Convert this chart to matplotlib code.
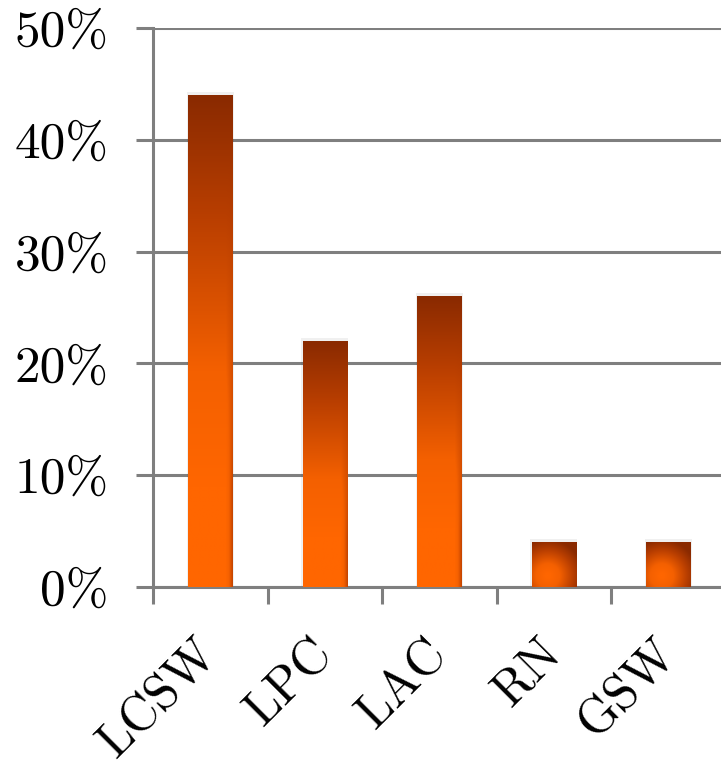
import numpy as np
import matplotlib.pyplot as plt
from matplotlib.colors import LinearSegmentedColormap
from matplotlib.ticker import FixedLocator, NullFormatter

categories = ["LCSW", "LPC", "LAC", "RN", "GSW"]
shares = [0.44, 0.22, 0.26, 0.04, 0.04]
ytick_values = [0.0, 0.1, 0.2, 0.3, 0.4, 0.5]
ytick_labels = ["0%", "10%", "20%", "30%", "40%", "50%"]

GRID = "#7f7f7f"


def main():
    plt.rcParams.update(
        {
            "font.family": "cmr10",
            "axes.unicode_minus": False,
        }
    )
    fig = plt.figure(figsize=(7.21, 7.68), dpi=100)
    ax = fig.add_axes([153 / 721, 1 - 587 / 768, 1 - 153 / 721, (587 - 28) / 768])

    cmap = LinearSegmentedColormap.from_list(
        "bar", [(0.0, "#8a2a00"), (0.3, "#b83e00"), (0.7, "#f46000"), (1.0, "#ff6600")]
    )

    width = 0.385
    x = np.arange(len(categories))
    bars = ax.bar(x, shares, width=width, color="none", edgecolor="none", zorder=3)
    for rect, val in zip(bars, shares):
        x0 = rect.get_x()
        # row 0 is the top of the bar: dark at the top, orange below
        ny, nx = 200, 40
        t = np.linspace(0, 1, ny)[:, None] * np.ones((1, nx))
        s = np.ones((ny, 1)) * np.linspace(0, 1, nx)[None, :]
        if val < 0.1:
            # short bars look radial: bright lower-left, darker edges
            d = np.sqrt((s - 0.35) ** 2 + (t - 0.75) ** 2)
            t = np.clip(1.05 - 1.3 * d, 0, 1)
        else:
            t = np.clip(t / 0.8, 0, 1)
            t = np.clip(t - 0.6 * np.clip(s - 0.85, 0, 1) / 0.15 * t ** 3, 0, 1)
        im = ax.imshow(
            t,
            cmap=cmap,
            vmin=0,
            vmax=1,
            extent=(x0, x0 + width, 0, val),
            origin="upper",
            aspect="auto",
            zorder=3,
            interpolation="bilinear",
        )
        im.set_clip_path(rect)
        # faint shadow
        ax.add_patch(
            plt.Rectangle(
                (x0 - 0.012, 0), width + 0.024, val + 0.003,
                facecolor="#000000", alpha=0.06, edgecolor="none", zorder=2.5,
            )
        )

    ax.set_xlim(-0.5, -0.5 + 568 / 114.5)
    ax.set_ylim(0, 0.5)

    ax.yaxis.set_major_locator(FixedLocator(ytick_values))
    ax.set_yticklabels(ytick_labels)
    ax.grid(axis="y", color=GRID, linewidth=2.2, zorder=1)
    ax.set_axisbelow(True)

    # boundary ticks (major) and centred labels (minor)
    ax.xaxis.set_major_locator(FixedLocator(np.arange(len(categories)) - 0.5))
    ax.xaxis.set_major_formatter(NullFormatter())
    ax.xaxis.set_minor_locator(FixedLocator(x))
    ax.set_xticklabels(categories, minor=True, rotation=45, ha="right",
                       va="center", rotation_mode="anchor")

    ax.tick_params(axis="x", which="major", length=12, width=2.2, color=GRID)
    ax.tick_params(axis="x", which="minor", length=0, pad=43, labelsize=36)
    ax.tick_params(axis="y", length=12, width=2.2, color=GRID, pad=20, labelsize=37)

    for side in ["top", "right"]:
        ax.spines[side].set_visible(False)
    for side in ["left", "bottom"]:
        ax.spines[side].set_color(GRID)
        ax.spines[side].set_linewidth(2.2)

    fig.savefig("out.png", dpi=100)


if __name__ == "__main__":
    main()
